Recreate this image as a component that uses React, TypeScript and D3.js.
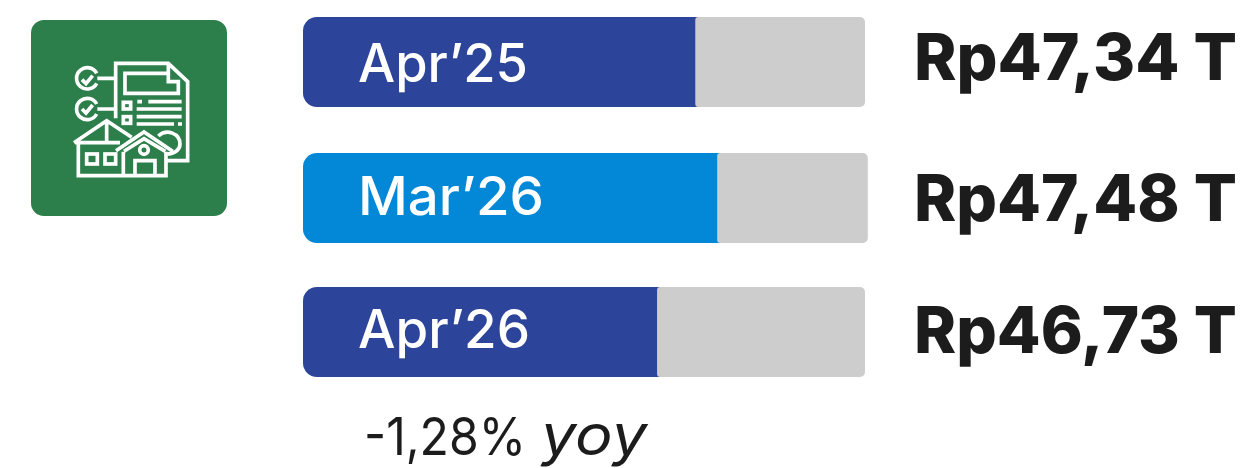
import React from 'react';
import * as d3 from 'd3';

// data
const periods = ['Apr’25', 'Mar’26', 'Apr’26'];
const valueLabels = ['Rp47,34 T', 'Rp47,48 T', 'Rp46,73 T'];
const fillShares = [69.8, 73.7, 63.0]; // % of the track that is coloured
const trackShares = [100, 100.5, 100];
const barColors = ['#2c4499', '#0288d6', '#2c4499'];
const changeValue = '-1,28%';
const changeUnit = 'yoy';

// layout, per row: rows and text baselines are not evenly spaced in the source
const rowTops = [17, 153, 287];
const periodBaselines = [82, 215, 348];
const periodWidths = [170, 186, 172];
const valueBaselines = [80, 221, 353];
const BAR_HEIGHT = 90;

const FONT = "Inter, 'Noto Sans', sans-serif";
const INK = '#1c1c1c';

const xScale = d3.scaleLinear().domain([0, 100]).range([303, 865]);
const yScale = d3.scaleOrdinal<string, number>().domain(periods).range(rowTops);

// rect with only the left or only the right corners rounded
const sideRoundedRect = (x0: number, x1: number, y0: number, y1: number, rl: number, rr: number) => {
  const p = d3.path();
  p.moveTo(x0 + rl, y0);
  p.lineTo(x1 - rr, y0);
  if (rr) p.arcTo(x1, y0, x1, y0 + rr, rr);
  p.lineTo(x1, y1 - rr);
  if (rr) p.arcTo(x1, y1, x1 - rr, y1, rr);
  p.lineTo(x0 + rl, y1);
  if (rl) p.arcTo(x0, y1, x0, y1 - rl, rl);
  p.lineTo(x0, y0 + rl);
  if (rl) p.arcTo(x0, y0, x0 + rl, y0, rl);
  p.closePath();
  return p.toString();
};

function HouseIcon() {
  // drawn in a 3x space, same as the zoomed crop
  return (
    <g transform="translate(20,10) scale(0.3333)" fill="none" stroke="#fff" strokeWidth={11} strokeLinejoin="miter">
      <path d="M287 325 V160 H445 L503 215 V452 H440" />
      <path d="M445 160 V215 H475 V250 H315 V190 H440" />
      <path d="M385 275 H485 M352 275 H366 M350 297 H485 M350 320 H485 M350 342 H462 M474 342 H486" />
      <rect x={310} y={277} width={22} height={20} />
      <rect x={310} y={320} width={22} height={20} />
      <path d="M230 190 A32 32 0 1 0 230 220 M232 205 H287" />
      <path d="M230 282 A32 32 0 1 0 230 312 M232 297 H287" />
      <path d="M186 209 L198 221 L218 197" />
      <path d="M186 297 L198 309 L218 285" />
      <path d="M162 398 L260 332 L335 382 M260 332 V398 M165 398 H300" />
      <path d="M175 398 V497 H438 V425 M310 425 V497" />
      <rect x={200} y={432} width={32} height={30} />
      <rect x={255} y={432} width={32} height={30} />
      <path d="M288 422 L372 366 L458 424 M312 424 L372 386 L436 424" />
      <path d="M345 497 V452 H405 V497" />
      <circle cx={372} cy={420} r={13} />
      <path d="M415 378 C440 355 480 370 480 402 C480 420 462 432 442 432" />
    </g>
  );
}

export default function App() {
  return (
    <svg width={1247} height={468} style={{ position: 'absolute', left: 0, top: 0, background: '#fff' }} fontFamily={FONT}>
      <rect x={31} y={20} width={196} height={196} rx={13} fill="#2c7f4a" />
      <HouseIcon />

      {periods.map((period, i) => {
        const y0 = yScale(period);
        const y1 = y0 + BAR_HEIGHT;
        const fillEnd = xScale(fillShares[i]);
        return (
          <g key={period}>
            <path d={sideRoundedRect(xScale(0), fillEnd + 6, y0, y1, 14, 0)} fill={barColors[i]} />
            <path d={sideRoundedRect(fillEnd, xScale(trackShares[i]), y0, y1, 3, 5)} fill="#cdcdcd" />
            <text x={358} y={periodBaselines[i]} fontSize={53} fontWeight={500} fill="#fff"
              textLength={periodWidths[i]} lengthAdjust="spacingAndGlyphs">{period}</text>
            <text x={914} y={valueBaselines[i]} fontSize={65} fontWeight={800} fill={INK}
              textLength={323} lengthAdjust="spacingAndGlyphs">{valueLabels[i]}</text>
          </g>
        );
      })}

      <text x={364} y={455} fontSize={52} fontWeight={400} fill={INK}
        textLength={162} lengthAdjust="spacingAndGlyphs">{changeValue}</text>
      <text x={541} y={455} fontSize={56} fontWeight={400} fontStyle="italic" fill={INK}
        textLength={106} lengthAdjust="spacingAndGlyphs">{changeUnit}</text>
    </svg>
  );
}
